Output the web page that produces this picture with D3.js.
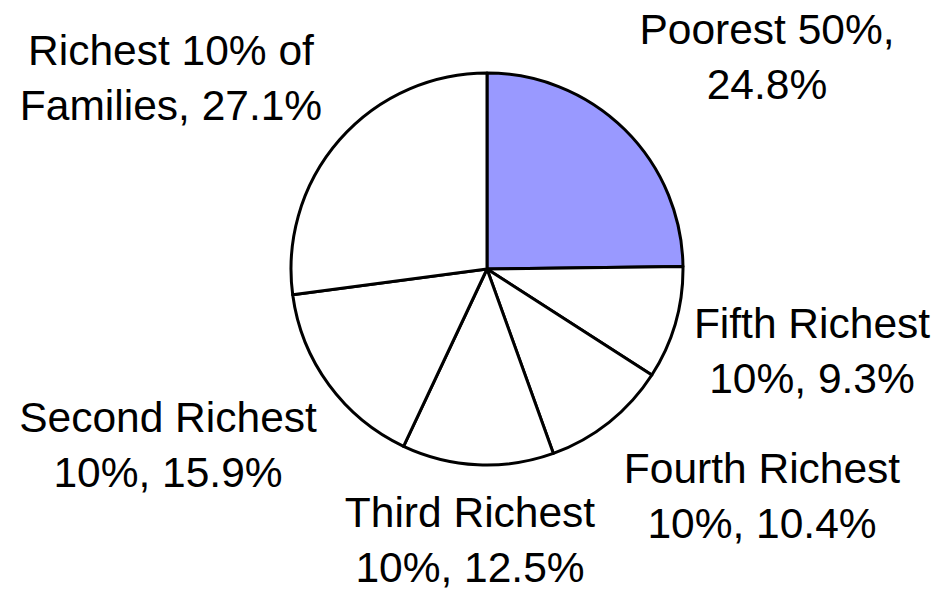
<!DOCTYPE html>
<html>
<head>
<meta charset="utf-8">
<script src="https://cdn.jsdelivr.net/npm/d3@7"></script>
<style>
  html, body { margin: 0; padding: 0; background: #fff; }
  svg { display: block; }
</style>
</head>
<body>
<div id="chart"></div>
<script>
// slices, clockwise from 12 o'clock
const groups = ["Poorest 50%", "Fifth Richest 10%", "Fourth Richest 10%", "Third Richest 10%", "Second Richest 10%", "Richest 10% of Families"];
const shares = [24.8, 9.3, 10.4, 12.5, 15.9, 27.1];
const labelLines = [
  ["Poorest 50%,", "24.8%"],
  ["Fifth Richest", "10%, 9.3%"],
  ["Fourth Richest", "10%, 10.4%"],
  ["Third Richest", "10%, 12.5%"],
  ["Second Richest", "10%, 15.9%"],
  ["Richest 10% of", "Families, 27.1%"]
];
const fills = ["#9999ff", "#ffffff", "#ffffff", "#ffffff", "#ffffff", "#ffffff"];

const width = 941, height = 589;
const cx = 487, cy = 269, radius = 196;
// where each label block sits (first baseline), by slice order
const labelPos = [[767, 44], [812, 338], [762, 483], [470, 527], [168, 432], [171, 65]];
const lineGap = 54.5;

const svg = d3.select("#chart").append("svg")
  .attr("width", width)
  .attr("height", height);

const pie = d3.pie().sort(null).value(d => d);
const arc = d3.arc().innerRadius(0).outerRadius(radius);

const g = svg.append("g").attr("transform", `translate(${cx},${cy})`);

g.selectAll("path")
  .data(pie(shares))
  .join("path")
  .attr("d", arc)
  .attr("fill", (d, i) => fills[i])
  .attr("stroke", "#000")
  .attr("stroke-width", 3)
  .attr("stroke-linejoin", "round");

const labels = svg.append("g")
  .attr("font-family", "Liberation Sans, Arial, sans-serif")
  .attr("font-size", 42.5)
  .attr("fill", "#000")
  .attr("text-anchor", "middle");

labels.selectAll("text")
  .data(labelLines)
  .join("text")
  .attr("x", (d, i) => labelPos[i][0])
  .attr("y", (d, i) => labelPos[i][1])
  .selectAll("tspan")
  .data(d => d)
  .join("tspan")
  .attr("x", function () { return d3.select(this.parentNode).attr("x"); })
  .attr("dy", (d, i) => i === 0 ? 0 : lineGap)
  .text(d => d);
</script>
</body>
</html>
